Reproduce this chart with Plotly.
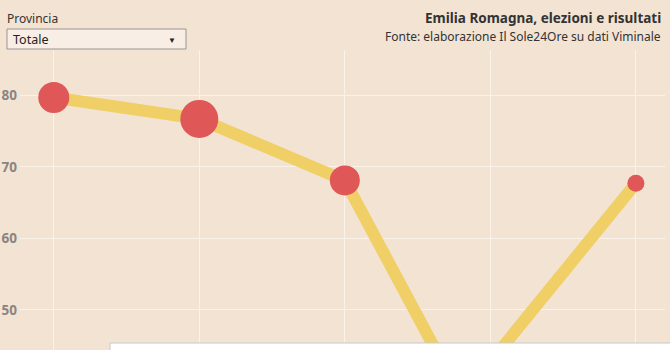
import plotly.graph_objects as go

# Data
years = [2000, 2005, 2010, 2014, 2020]
turnout = [79.7, 76.7, 68.1, 37.7, 67.7]
marker_sizes = [31, 38, 30, 22, 17]
y_ticks = [50, 60, 70, 80]
title_text = "<b>Emilia Romagna, elezioni e risultati</b>"
source_text = "Fonte: elaborazione Il Sole24Ore su dati Viminale"
dropdown_label = "Provincia"
dropdown_value = "Totale"

BG = "#f3e3d3"
FONT = "Noto Sans"

fig = go.Figure()
fig.add_trace(go.Scatter(
    x=years, y=turnout, mode="lines",
    line=dict(color="#f0cf66", width=12),
    hoverinfo="skip", showlegend=False,
))
fig.add_trace(go.Scatter(
    x=years, y=turnout, mode="markers",
    marker=dict(color="#e05757", size=marker_sizes, opacity=1, line=dict(width=0)),
    showlegend=False,
))

fig.update_layout(
    width=670, height=350,
    margin=dict(l=20, r=5, t=50, b=0),
    paper_bgcolor=BG, plot_bgcolor=BG,
    font=dict(family=FONT, color="#333"),
    xaxis=dict(range=[1998.84, 2021.0], tickvals=[2000, 2005, 2010, 2015, 2020],
               showticklabels=False, showgrid=True, gridcolor="#fbf3ea", gridwidth=1,
               zeroline=False, showline=False),
    yaxis=dict(range=[44.38, 86.34], tickvals=y_ticks, showgrid=True,
               gridcolor="#fbf3ea", gridwidth=1, zeroline=False, showline=False,
               ticks="", ticklabelstandoff=2,
               tickfont=dict(size=13.5, color="#8a8580", family=FONT, weight="bold")),
)

# Title and source
fig.add_annotation(text=title_text, xref="paper", yref="paper", x=1.0, y=1.0,
                   xshift=-2, yshift=32, xanchor="right", yanchor="middle", showarrow=False,
                   font=dict(size=13.5, color="#333", family=FONT))
fig.add_annotation(text=source_text, xref="paper", yref="paper", x=1.0, y=1.0,
                   xshift=-2, yshift=14, xanchor="right", yanchor="middle", showarrow=False,
                   font=dict(size=12, color="#333", family=FONT))

# Dropdown look-alike
fig.add_annotation(text=dropdown_label, xref="paper", yref="paper", x=-0.02, y=1.0,
                   xshift=-2, yshift=32, xanchor="left", yanchor="middle", showarrow=False,
                   font=dict(size=12, color="#333", family=FONT))
fig.add_shape(type="rect", xref="paper", yref="paper",
              x0=(7 - 20) / 645, x1=(186 - 20) / 645,
              y0=1 + 1 / 300, y1=1 + 21 / 300,
              fillcolor="#f8eee5", line=dict(color="#9a9590", width=1), layer="above")
fig.add_annotation(text=dropdown_value, xref="paper", yref="paper", x=(11 - 20) / 645,
                   y=1 + 11 / 300, xanchor="left", yanchor="middle", showarrow=False,
                   font=dict(size=12.5, color="#222", family=FONT))
fig.add_annotation(text="▼", xref="paper", yref="paper", x=(172 - 20) / 645,
                   y=1 + 11 / 300, xanchor="center", yanchor="middle", showarrow=False,
                   font=dict(size=8, color="#222", family=FONT))

# White box at the bottom
fig.add_shape(type="rect", xref="paper", yref="paper",
              x0=(110 - 20) / 645, x1=1.2, y0=-0.1, y1=7 / 300,
              fillcolor="white", line=dict(color="#c8c8c8", width=1), layer="above")

fig.write_html("out.html")
